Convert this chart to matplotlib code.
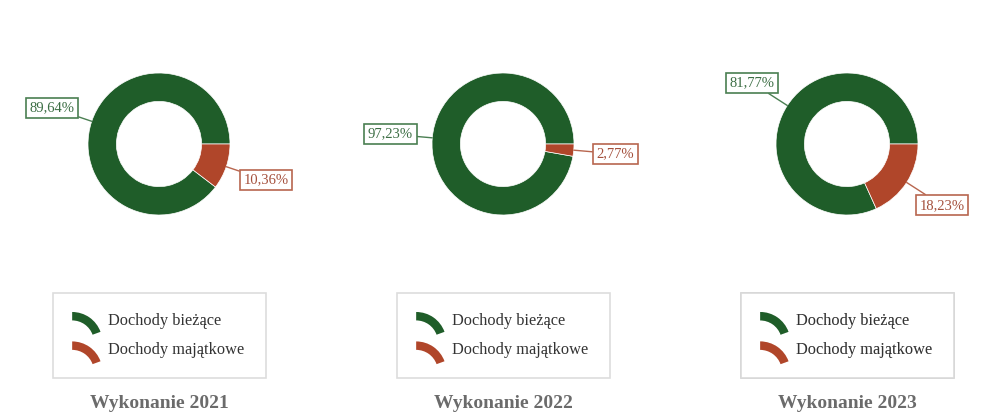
import numpy as np
import matplotlib
matplotlib.use("Agg")
import matplotlib.pyplot as plt
from matplotlib.patches import Wedge
from matplotlib.legend_handler import HandlerBase

plt.rcParams['font.family'] = ['Liberation Serif', 'DejaVu Serif']

# ---- data ----
categories = ["Dochody bieżące", "Dochody majątkowe"]
years = ["Wykonanie 2021", "Wykonanie 2022", "Wykonanie 2023"]
biezace = [89.64, 97.23, 81.77]
majatkowe = [10.36, 2.77, 18.23]

colors = ["#1f5d29", "#b0462a"]
label_text_colors = ["#3c6e44", "#a4503c"]
label_edge_colors = ["#4a7f52", "#b8664f"]

W, H = 983, 418
fig = plt.figure(figsize=(W / 100, H / 100), dpi=100)
ax = fig.add_axes([0, 0, 1, 1])

centers_x = [159, 503, 847]
center_y = H - 144
R = 71
label_dist = 113


class HandlerArc(HandlerBase):
    def create_artists(self, legend, orig_handle, xdescent, ydescent,
                       width, height, fontsize, trans):
        r = width * 1.07
        cy = -ydescent + height / 2 + 5.0 - r
        cx = -xdescent
        w = Wedge((cx, cy), r, 20, 90, width=r * 0.28,
                  facecolor=orig_handle.get_facecolor(), edgecolor='none',
                  transform=trans)
        return [w]


def fmt(v):
    return ("%.2f" % v).replace(".", ",") + "%"


for i in range(3):
    vals = [biezace[i], majatkowe[i]]
    cx = centers_x[i]
    wedges, _ = ax.pie(vals, colors=colors, startangle=0, counterclock=True,
                       radius=R, center=(cx, center_y),
                       wedgeprops=dict(width=R * 0.4, edgecolor='white', linewidth=0.5))
    for j, wdg in enumerate(wedges):
        mid = np.deg2rad((wdg.theta1 + wdg.theta2) / 2)
        px = cx + R * np.cos(mid)
        py = center_y + R * np.sin(mid)
        tx = cx + label_dist * np.cos(mid)
        ty = center_y + label_dist * np.sin(mid)
        ax.annotate(fmt(vals[j]), xy=(px, py), xytext=(tx, ty),
                    ha='center', va='center', fontsize=10.5,
                    color=label_text_colors[j],
                    bbox=dict(boxstyle='square,pad=0.25', facecolor='white',
                              edgecolor=label_edge_colors[j], linewidth=1.2),
                    arrowprops=dict(arrowstyle='-', color=label_edge_colors[j],
                                    linewidth=1.0, shrinkA=0, shrinkB=0))
    # legend box
    bx0, bw = cx - 106.5, 213
    by_top = 293
    leg = ax.legend(wedges, categories,
                    handler_map={Wedge: HandlerArc()},
                    loc='upper left', mode='expand',
                    bbox_to_anchor=(bx0 / W, 1 - by_top / H, bw / W, 0.0),
                    bbox_transform=fig.transFigure,
                    fontsize=11.8, frameon=True, fancybox=False,
                    edgecolor='#d4d4d4', borderpad=1.2, labelspacing=0.82,
                    handlelength=1.72, handletextpad=0.45, borderaxespad=0)
    leg.get_frame().set_linewidth(1.2)
    for t in leg.get_texts():
        t.set_color('#333333')
    ax.add_artist(leg)
    ax.text(cx, H - 404, years[i], ha='center', va='center', fontsize=14,
            fontweight='bold', color='#6b6b6b')

ax.set_xlim(0, W)
ax.set_ylim(0, H)
ax.set_aspect('equal')
ax.axis('off')

fig.savefig("out.png", dpi=100, facecolor='white')
